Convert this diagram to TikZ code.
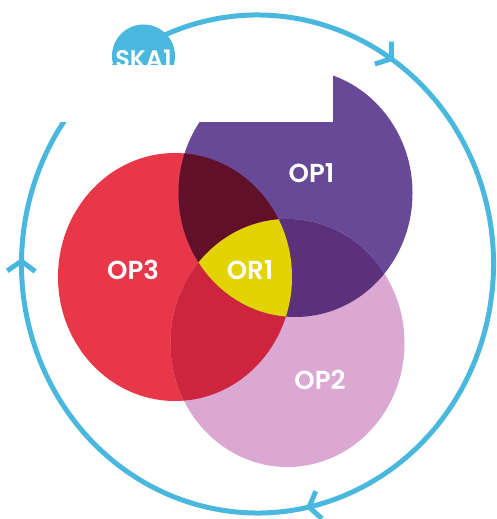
\documentclass[tikz,border=0pt]{standalone}
\usepackage{fontspec}
\setmainfont{Poppins}[BoldFont={Poppins SemiBold}]
\usetikzlibrary{arrows.meta,decorations.markings}
\definecolor{skyring}{RGB}{74,183,223}
\definecolor{opred}{RGB}{233,55,74}
\definecolor{oppurple}{RGB}{103,73,152}
\definecolor{oppink}{RGB}{219,168,212}
\definecolor{redpurple}{RGB}{96,17,41}
\definecolor{redpink}{RGB}{206,36,62}
\definecolor{purplepink}{RGB}{91,49,124}
\definecolor{coreyellow}{RGB}{228,211,2}
\tikzstyle{blob}=[
	x radius=117pt,
	y radius=124pt
]
\tikzstyle{ring}=[
	draw=skyring,
	line width=5pt,
	>={Straight Barb[length=10pt,width=28pt]},
	postaction={decorate},
	decoration={markings,
		mark=at position 0.176 with {\arrow{>}},
		mark=at position 0.548 with {\arrow{>}},
		mark=at position 0.834 with {\arrow{>}}}
]
\tikzstyle{skadot}=[
	circle,
	fill=skyring,
	minimum size=63pt,
	inner sep=0pt
]
\tikzstyle{tag}=[
	text=white,
	font=\fontsize{26}{28}\selectfont\bfseries,
	inner sep=0pt
]

\begin{document}
\begin{tikzpicture}[x=1pt,y=1pt]
\useasboundingbox (0,0) rectangle (497,519);
\coordinate (hub) at (257.5,255);
\coordinate (op1) at (295.5,326);
\coordinate (op2) at (287.5,176);
\coordinate (op3) at (175,242);
\draw [ring] ([shift={(119.5:236pt and 249pt)}]hub) arc [start angle=119.5, delta angle=-360, x radius=236pt, y radius=249pt];
\node [skadot] (ska1) at (143.5,463) {};
\node [tag, font=\fontsize{24}{26}\selectfont\bfseries] (skatext) at (143.5,460.5) {SKA1};
\fill [opred] (op3) circle [blob];
\fill [oppurple] (op1) circle [blob];
\fill [oppink] (op2) circle [blob];
\begin{scope}
	\clip (op3) circle [blob];
	\fill [redpurple] (op1) circle [blob];
	\fill [redpink] (op2) circle [blob];
\end{scope}
\begin{scope}
	\clip (op1) circle [blob];
	\fill [purplepink] (op2) circle [blob];
	\clip (op3) circle [blob];
	\fill [coreyellow] (op2) circle [blob];
\end{scope}
\fill [white] (30,397) rectangle (333,454);
\node [tag] (op1text) at (311.5,346) {OP1};
\node [tag] (op3text) at (133,249) {OP3};
\node [tag] (or1text) at (250,249) {OR1};
\node [tag] (op2text) at (320,139) {OP2};
\end{tikzpicture}
\end{document}
